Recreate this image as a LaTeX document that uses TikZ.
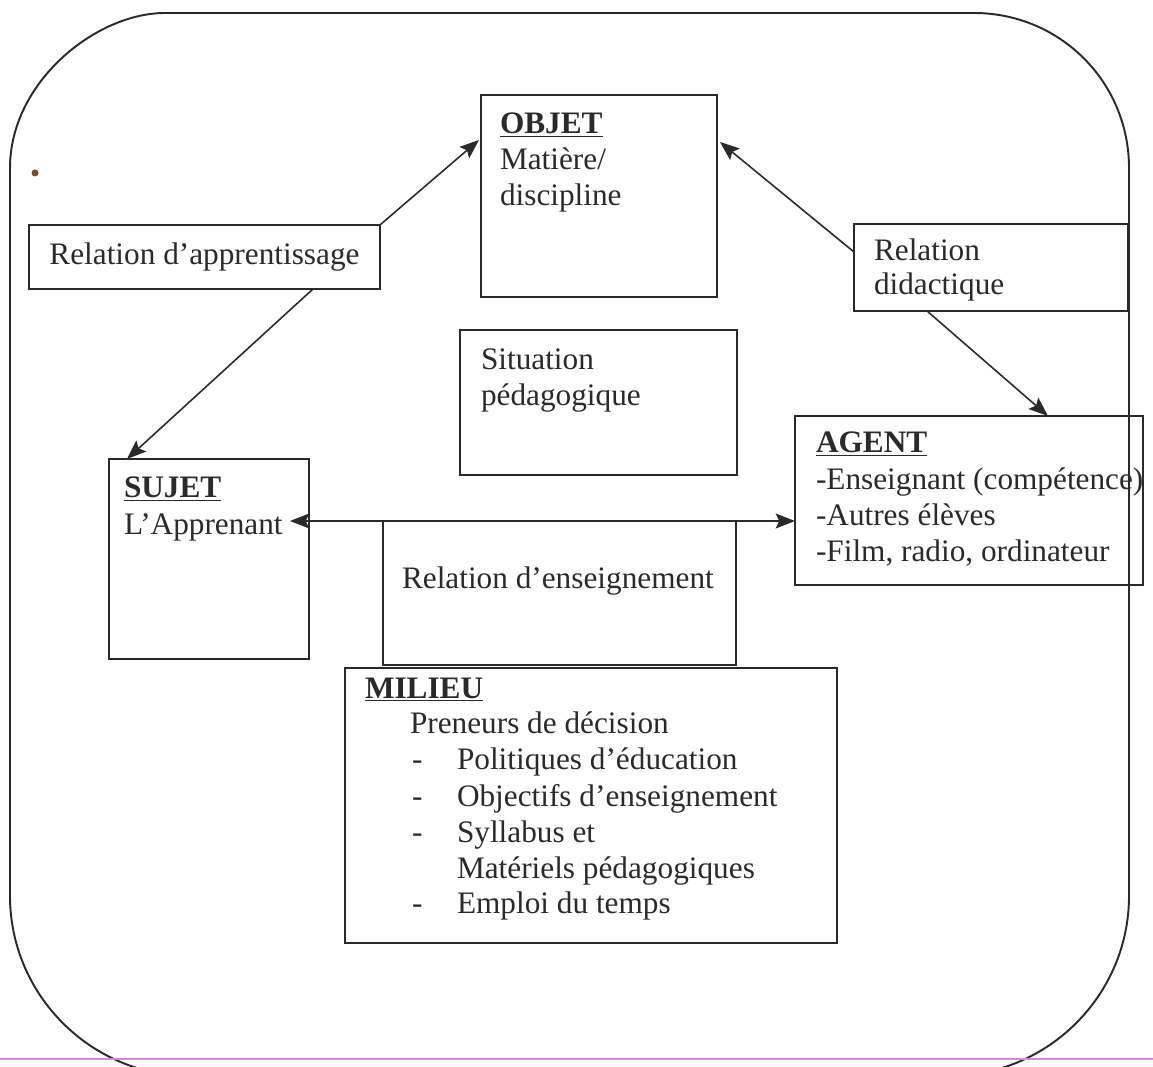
\documentclass[tikz,border=0pt]{standalone}
\usepackage{fontspec}
\setmainfont{Liberation Serif}
\usetikzlibrary{arrows.meta,calc}
\definecolor{ink}{HTML}{2A2A2A}
\definecolor{scanpink}{HTML}{D58AD8}
\definecolor{dotbrown}{HTML}{7A4A2A}
\tikzset{
  boxst/.style={draw=ink, line width=0.9pt, inner sep=0pt, outer sep=0pt, anchor=north west},
  txt/.style={text=ink, inner sep=0pt, outer sep=0pt, anchor=base west, font=\fontsize{17.8}{20.4}\selectfont},
  tip/.style={},
  arr/.style={draw=ink, line width=0.9pt, -{Stealth[length=11pt,width=8.5pt,inset=2pt]}},
  dbl/.style={draw=ink, line width=0.9pt, {Stealth[length=11pt,width=8.5pt,inset=2pt]}-{Stealth[length=11pt,width=8.5pt,inset=2pt]}},
  frame/.style={draw=ink, line width=1.1pt}
}
\begin{document}
\begin{tikzpicture}[x=0.02cm,y=-0.02cm]
\useasboundingbox (0,0) rectangle (1153,1067);
\begin{scope}
\clip (0,0) rectangle (1153,1067);
% outer rounded frame
\draw[frame] (10,168) .. controls (10,82) and (96,13) .. (165,13)
  -- (974,13) .. controls (1060,13) and (1129,82) .. (1129,168)
  -- (1129,896) .. controls (1129,995) and (1048,1076) .. (949,1076)
  -- (190,1076) .. controls (91,1076) and (10,995) .. (10,896) -- cycle;
% scan artefacts
\draw[scanpink, line width=0.8pt] (0,1059) -- (1153,1059);
\fill[dotbrown] (35,173) circle (3.5);
\end{scope}

% boxes
\node[boxst, minimum width=4.72cm, minimum height=4.04cm] (objet) at (481,95) {};
\node[boxst, minimum width=7.02cm, minimum height=1.28cm, anchor=north west, text=ink,
      font=\fontsize{17.8}{20.4}\selectfont] (appr) at (29,225) {Relation d’apprentissage};
\node[boxst, minimum width=5.48cm, minimum height=1.74cm] (dida) at (854,224) {};
\node[boxst, minimum width=5.54cm, minimum height=2.90cm] (situ) at (460,330) {};
\node[boxst, minimum width=4.00cm, minimum height=4.00cm] (sujet) at (109,459) {};
\node[boxst, minimum width=6.96cm, minimum height=3.38cm] (agent) at (795,416) {};
\node[boxst, minimum width=7.06cm, minimum height=2.88cm] (ens) at (383,521) {};
\node[boxst, minimum width=9.84cm, minimum height=5.50cm] (milieu) at (345,668) {};

% texts
\node[txt] (objetA) at (500,134) {\underline{\textbf{OBJET}}};
\node[txt] (objetB) at (500,170) {Matière/};
\node[txt] (objetC) at (500,206) {discipline};

\node[txt] (didaA) at (874,261) {Relation};
\node[txt] (didaB) at (874,295) {didactique};

\node[txt] (situA) at (481,370) {Situation};
\node[txt] (situB) at (481,406) {pédagogique};

\node[txt] (sujetA) at (124,498) {\underline{\textbf{SUJET}}};
\node[txt] (sujetB) at (124,534) {L’Apprenant};

\node[txt] (agentA) at (816,453) {\underline{\textbf{AGENT}}};
\node[txt] (agentB) at (816,489) {-Enseignant (compétence)};
\node[txt] (agentC) at (816,525) {-Autres élèves};
\node[txt] (agentD) at (816,561) {-Film, radio, ordinateur};

\node[txt] (ensA) at (402,588) {Relation d’enseignement};

\node[txt] (milA) at (365,698) {\underline{\textbf{MILIEU}}};
\node[txt] (milB) at (410,733) {Preneurs de décision};
\node[txt] (milD1) at (412,769) {-};
\node[txt] (milC1) at (457,769) {Politiques d’éducation};
\node[txt] (milD2) at (412,806) {-};
\node[txt] (milC2) at (457,806) {Objectifs d’enseignement};
\node[txt] (milD3) at (412,842) {-};
\node[txt] (milC3) at (457,842) {Syllabus et};
\node[txt] (milC4) at (457,878) {Matériels pédagogiques};
\node[txt] (milD5) at (412,913) {-};
\node[txt] (milC5) at (457,913) {Emploi du temps};

% connectors
\draw[arr] (appr.north east) -- ($(objet.north west)+(-2,45)$);
\draw[arr] ($(appr.south west)+(284,0)$) -- ($(sujet.north west)+(18,0)$);
\draw[arr] ($(dida.north west)+(0,28)$) -- ($(objet.north east)+(3,47)$);
\draw[arr] ($(dida.south west)+(73,0)$) -- ($(agent.north west)+(253,0)$);
\draw[dbl] ($(sujet.north east)+(-19,62)$) -- ($(agent.north west)+(0,105)$);
\end{tikzpicture}
\end{document}
